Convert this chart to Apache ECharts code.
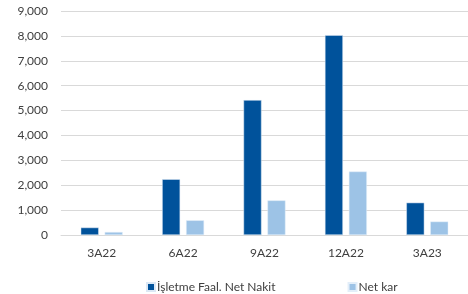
<!DOCTYPE html>
<html>
<head>
<meta charset="utf-8">
<script src="https://cdn.jsdelivr.net/npm/echarts@6/dist/echarts.min.js"></script>
<style>
  html, body { margin: 0; padding: 0; background: #fff; }
  #chart { width: 468px; height: 294px; }
</style>
</head>
<body>
<div id="chart"></div>
<script>
const categories = ['3A22', '6A22', '9A22', '12A22', '3A23'];
const netNakit = [300, 2240, 5420, 8030, 1300];
const netKar = [120, 590, 1390, 2550, 540];
const seriesNames = ['İşletme Faal. Net Nakit', 'Net kar'];

const fontFamily = 'Lato, "Open Sans", sans-serif';

let myChart = echarts.init(document.getElementById('chart'));
let option = {
  animation: false,
  textStyle: { fontFamily: fontFamily, color: '#404040', fontSize: 12 },
  grid: { left: 61, right: 0, top: 11, bottom: 59 },
  legend: {
    top: 276,
    left: 141,
    itemWidth: 8,
    itemHeight: 8,
    itemGap: 72,
    icon: 'rect',
    textStyle: { color: '#404040', fontSize: 12, fontFamily: fontFamily, padding: [0, 0, 0, -3] },
    data: seriesNames
  },
  xAxis: {
    type: 'category',
    data: categories,
    axisTick: { show: false },
    axisLine: { lineStyle: { color: '#d9d9d9', width: 1 } },
    axisLabel: { color: '#404040', fontSize: 12, margin: 12 }
  },
  yAxis: {
    type: 'value',
    min: 0,
    max: 9000,
    interval: 1000,
    axisLine: { show: false },
    axisTick: { show: false },
    splitLine: { lineStyle: { color: '#d9d9d9', width: 1 } },
    axisLabel: {
      color: '#404040',
      fontSize: 12,
      margin: 13,
      formatter: v => v.toLocaleString('en-US')
    }
  },
  series: [
    {
      name: seriesNames[0],
      type: 'bar',
      data: netNakit,
      barWidth: 18,
      barGap: '33%',
      itemStyle: { color: '#00529b', borderColor: '#dce8f5', borderWidth: 0.5 }
    },
    {
      name: seriesNames[1],
      type: 'bar',
      data: netKar,
      barWidth: 18,
      itemStyle: { color: '#9dc3e6', borderColor: '#e3eef9', borderWidth: 0.5 }
    }
  ]
};
myChart.setOption(option);
</script>
</body>
</html>
